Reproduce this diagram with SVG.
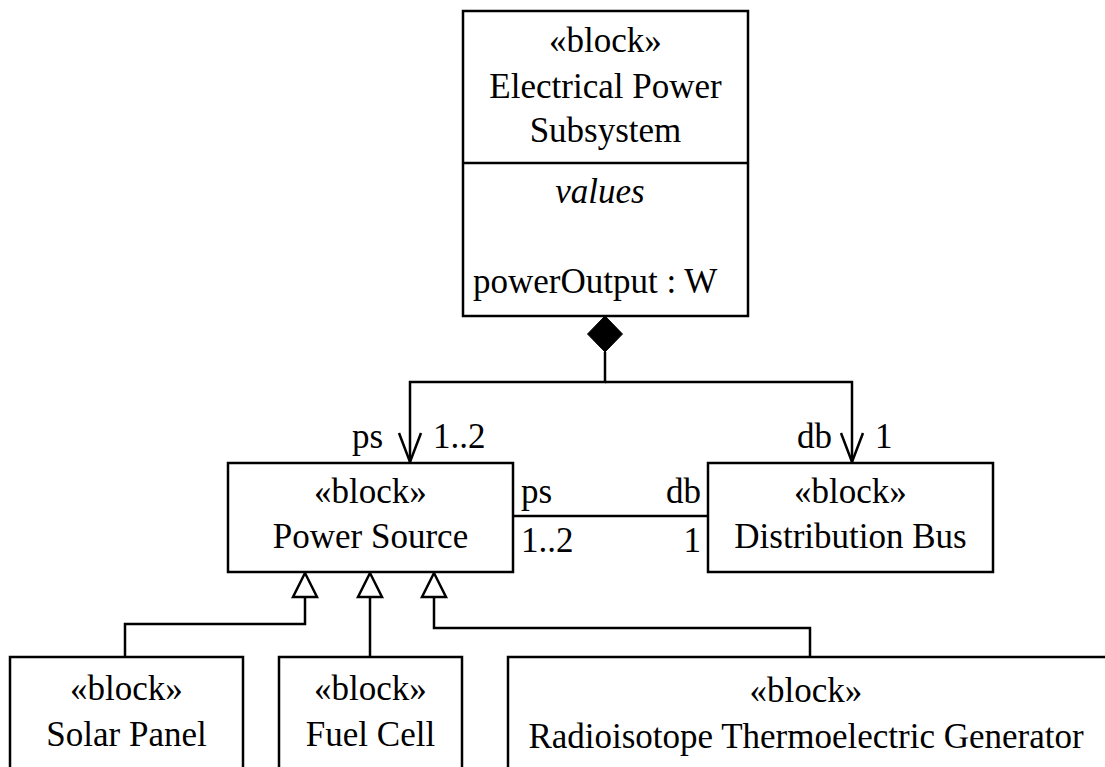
<svg xmlns="http://www.w3.org/2000/svg" width="1105" height="767" viewBox="0 0 1105 767">
<style>
.box{fill:#fff;stroke:#000;stroke-width:2.5}
.ln{fill:none;stroke:#000;stroke-width:2.5}
text{font-family:"Liberation Serif","Times New Roman",serif;font-size:35px;fill:#000}
.c{text-anchor:middle}
.e{text-anchor:end}
</style>
<rect width="1105" height="767" fill="#fff"/>
<g id="connectors">
<polygon points="605,316 622.5,334 605,352 587.5,334" fill="#000" stroke="#000" stroke-width="1"/>
<polyline class="ln" points="605,352 605,382 410,382 410,462"/>
<polyline class="ln" points="605,382 852,382 852,462"/>
<polyline class="ln" points="399,433 410,462 421,433"/>
<polyline class="ln" points="841,433 852,462 863,433"/>
<text x="383" y="448" class="e">ps</text>
<text x="433" y="448">1..2</text>
<text x="832" y="448" class="e">db</text>
<text x="875" y="448">1</text>
<line class="ln" x1="513" y1="516" x2="708" y2="516"/>
<text x="521" y="503">ps</text>
<text x="521" y="552">1..2</text>
<text x="701" y="503" class="e">db</text>
<text x="701" y="552" class="e">1</text>
<polyline class="ln" points="125,657 125,624 305,624 305,597"/>
<polyline class="ln" points="370,657 370,597"/>
<polyline class="ln" points="810,657 810,628 434,628 434,597"/>
<polygon class="box" points="305,573 317,597 293,597"/>
<polygon class="box" points="370,573 382,597 358,597"/>
<polygon class="box" points="434,573 446,597 422,597"/>
</g>
<g id="eps">
<rect class="box" x="463" y="11" width="285" height="305"/>
<line class="ln" x1="463" y1="163" x2="748" y2="163"/>
<text x="605.5" y="52" class="c">«block»</text>
<text x="605.5" y="98" class="c">Electrical Power</text>
<text x="605.5" y="142" class="c">Subsystem</text>
<text x="600" y="203" class="c" font-style="italic">values</text>
<text x="473" y="293">powerOutput : W</text>
</g>
<g id="power-source">
<rect class="box" x="228" y="463" width="285" height="109"/>
<text x="370.5" y="503" class="c">«block»</text>
<text x="370.5" y="548" class="c">Power Source</text>
</g>
<g id="distribution-bus">
<rect class="box" x="708" y="463" width="285" height="109"/>
<text x="850.5" y="503" class="c">«block»</text>
<text x="850.5" y="548" class="c">Distribution Bus</text>
</g>
<g id="solar-panel">
<rect class="box" x="10" y="657" width="233" height="150"/>
<text x="126.5" y="700" class="c">«block»</text>
<text x="126.5" y="746" class="c">Solar Panel</text>
</g>
<g id="fuel-cell">
<rect class="box" x="279" y="657" width="183" height="150"/>
<text x="370.5" y="700" class="c">«block»</text>
<text x="370.5" y="746" class="c">Fuel Cell</text>
</g>
<g id="rtg">
<rect class="box" x="508" y="657" width="604" height="150"/>
<text x="806" y="702" class="c">«block»</text>
<text x="806" y="748" class="c">Radioisotope Thermoelectric Generator</text>
</g>
</svg>
